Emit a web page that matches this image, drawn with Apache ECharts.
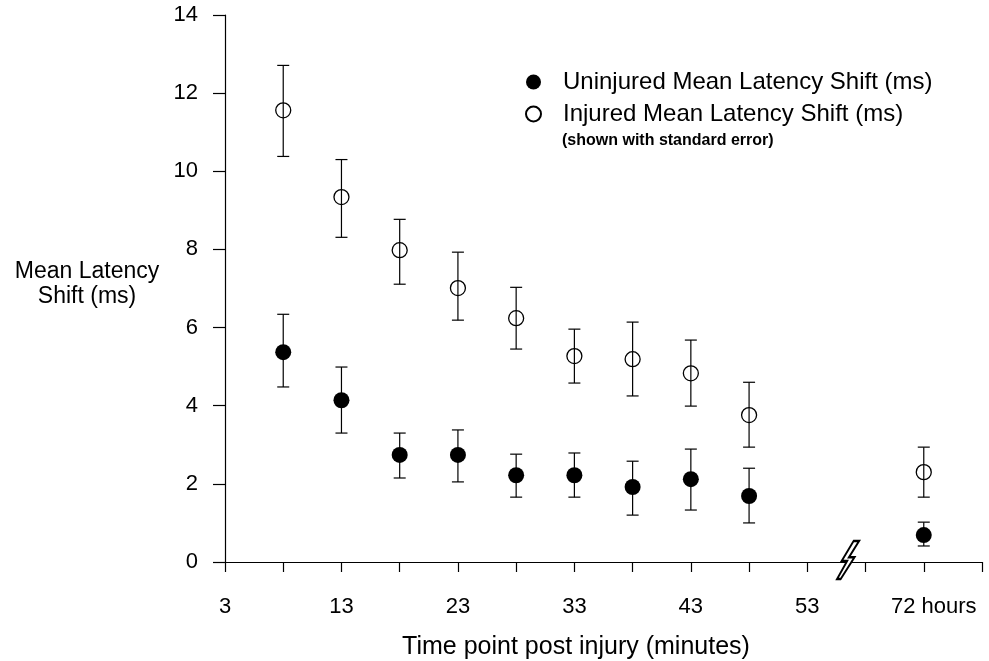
<!DOCTYPE html>
<html>
<head>
<meta charset="utf-8">
<script src="https://cdn.jsdelivr.net/npm/echarts@6/dist/echarts.min.js"></script>
<style>
  html, body { margin: 0; padding: 0; background: #fff; }
  #chart { width: 989px; height: 661px; }
</style>
</head>
<body>
<div id="chart"></div>
<script>
// time points (axis position; the 72 hour point sits past the axis break)
const timeLabels = ['8', '13', '18', '23', '28', '33', '38', '43', '48', '72 hours']
const timePos = [8, 13, 18, 23, 28, 33, 38, 43, 48, 63]

const uninjuredMean = [5.37, 4.14, 2.74, 2.74, 2.22, 2.22, 1.92, 2.12, 1.69, 0.69]
const uninjuredLow = [4.48, 3.30, 2.15, 2.05, 1.66, 1.66, 1.20, 1.33, 1.00, 0.41]
const uninjuredHigh = [6.34, 4.99, 3.30, 3.38, 2.76, 2.79, 2.58, 2.89, 2.40, 1.02]

const injuredMean = [11.56, 9.34, 7.98, 7.01, 6.24, 5.27, 5.19, 4.83, 3.76, 2.30]
const injuredLow = [10.38, 8.31, 7.11, 6.19, 5.45, 4.58, 4.25, 3.99, 2.94, 1.66]
const injuredHigh = [12.71, 10.30, 8.77, 7.93, 7.03, 5.96, 6.14, 5.68, 4.60, 2.94]

// x tick labels
const tickValues = [3, 13, 23, 33, 43, 53, 63]
const tickLabels = ['3', '13', '23', '33', '43', '53', '72 hours']

const FONT = 'Liberation Sans, Arial, sans-serif'

const chart = echarts.init(document.getElementById('chart'))

const pts = (ys) => timePos.map((x, i) => [x, ys[i]])
const bars = (lo, hi) => timePos.map((x, i) => [x, lo[i], hi[i]])

const errorBar = (lo, hi) => ({
  type: 'custom',
  silent: true,
  z: 3,
  data: bars(lo, hi),
  renderItem(params, api) {
    const top = api.coord([api.value(0), api.value(2)])
    const bot = api.coord([api.value(0), api.value(1)])
    const w = 6
    const style = { stroke: '#000', lineWidth: 1.2 }
    return {
      type: 'group',
      children: [
        { type: 'line', shape: { x1: top[0], y1: top[1], x2: bot[0], y2: bot[1] }, style },
        { type: 'line', shape: { x1: top[0] - w, y1: top[1], x2: top[0] + w, y2: top[1] }, style },
        { type: 'line', shape: { x1: bot[0] - w, y1: bot[1], x2: bot[0] + w, y2: bot[1] }, style }
      ]
    }
  }
})

const option = {
  backgroundColor: '#fff',
  animation: false,
  textStyle: { fontFamily: FONT, color: '#000' },
  grid: { left: 225, right: 7, top: 15, bottom: 99, containLabel: false },
  legend: {
    orient: 'vertical',
    left: 520,
    top: 65,
    itemWidth: 15,
    itemHeight: 15,
    itemGap: 8,
    data: ['Uninjured Mean Latency Shift (ms)', 'Injured Mean Latency Shift (ms)'],
    textStyle: { fontSize: 24, color: '#000', fontFamily: FONT, padding: [0, 0, 0, 17] }
  },
  xAxis: {
    type: 'value',
    min: 3,
    max: 68,
    interval: 5,
    splitLine: { show: false },
    axisLine: { onZero: false, lineStyle: { color: '#000', width: 1.2 } },
    axisTick: { length: 10, lineStyle: { color: '#000', width: 1.2 } },
    axisLabel: {
      margin: 34,
      fontSize: 22,
      color: '#000',
      fontFamily: FONT,
      formatter(v) {
        const i = tickValues.indexOf(v)
        if (i < 0) return ''
        return i === tickValues.length - 1 ? '{h|' + tickLabels[i] + '}' : tickLabels[i]
      },
      rich: { h: { fontSize: 22, fontFamily: FONT, color: '#000', padding: [0, 0, 0, 20] } }
    }
  },
  yAxis: {
    type: 'value',
    min: 0,
    max: 14,
    interval: 2,
    splitLine: { show: false },
    axisLine: { lineStyle: { color: '#000', width: 1.2 } },
    axisTick: { length: 12, lineStyle: { color: '#000', width: 1.2 } },
    axisLabel: { margin: 27, fontSize: 22, color: '#000', fontFamily: FONT }
  },
  graphic: [
    {
      type: 'text',
      style: {
        text: 'Mean Latency\nShift (ms)', x: 87, y: 284, align: 'center', verticalAlign: 'middle',
        font: '23px ' + FONT, fill: '#000', lineHeight: 25
      }
    },
    {
      type: 'text',
      style: {
        text: 'Time point post injury (minutes)', x: 576, y: 647, align: 'center', verticalAlign: 'middle',
        font: '25px ' + FONT, fill: '#000'
      }
    },
    {
      type: 'text',
      style: {
        text: '(shown with standard error)', x: 562, y: 141, align: 'left', verticalAlign: 'middle',
        font: 'bold 16px ' + FONT, fill: '#000'
      }
    }
  ],
  series: [
    errorBar(uninjuredLow, uninjuredHigh),
    errorBar(injuredLow, injuredHigh),
    {
      name: 'Uninjured Mean Latency Shift (ms)',
      type: 'scatter',
      z: 4,
      symbol: 'circle',
      symbolSize: 16,
      itemStyle: { color: '#000', opacity: 1 },
      data: pts(uninjuredMean),
      markPoint: {
        silent: true,
        symbol: 'path://M18,0 L24,0 L13,17 L19,17 L4,40 L0,40 L11,21 L5,21 Z',
        symbolSize: [22, 38],
        itemStyle: { color: '#fff', borderColor: '#000', borderWidth: 2, opacity: 1 },
        label: { show: false },
        data: [{ coord: [56.5, 0.05] }]
      }
    },
    {
      name: 'Injured Mean Latency Shift (ms)',
      type: 'scatter',
      z: 4,
      symbol: 'circle',
      symbolSize: 15,
      itemStyle: { color: 'rgba(255,255,255,0)', borderColor: '#000', borderWidth: 1.3, opacity: 1 },
      data: pts(injuredMean)
    }
  ]
}

chart.setOption(option)
window.addEventListener('resize', () => chart.resize())
</script>
</body>
</html>
